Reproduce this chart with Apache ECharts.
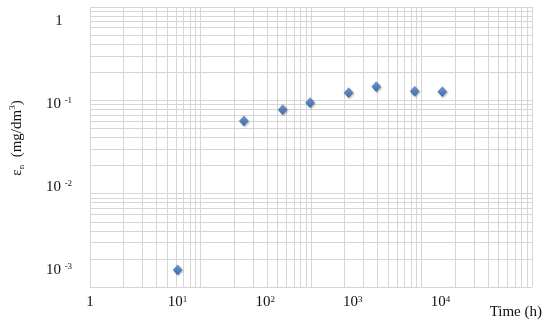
<!DOCTYPE html>
<html>
<head>
<meta charset="utf-8">
<script src="https://cdn.jsdelivr.net/npm/echarts@6/dist/echarts.min.js"></script>
<style>
html,body{margin:0;padding:0;background:#fff;}
#chart{width:550px;height:324px;}
</style>
</head>
<body>
<div id="chart"></div>
<script>
// measured points: time (h) / eps_n (mg/dm3)
var timeH = [10, 57, 158, 325, 895, 1850, 5080, 10500];
var epsN = [0.001, 0.0622, 0.085, 0.1032, 0.1362, 0.161, 0.1416, 0.140];
// tick labels
var xTickValues = [1, 10, 100, 1000, 10000];
var yTickValues = [0.001, 0.01, 0.1, 1];

var font = 'Liberation Serif';
var gridColor = '#d6d6d6';

// grid lines 1..9 x 10^k
var xGrid = [], yGrid = [];
for (var k = 0; k < 4; k++) {
    for (var m = 1; m < 10; m++) { xGrid.push(m * Math.pow(10, k)); }
}
xGrid.push(10000);
for (var k = -3; k < 0; k++) {
    for (var m = 1; m < 10; m++) { yGrid.push(m * Math.pow(10, k)); }
}
yGrid.push(1);

var points = [];
timeH.forEach(function (t, i) { points.push([t, epsN[i]]); });

var rich = {
    t: {fontFamily: font, fontSize: 15, color: '#111'},
    s: {fontFamily: font, fontSize: 9, color: '#111', verticalAlign: 'top', lineHeight: 12}
};

function powLabel(v, gap) {
    var n = Math.round(Math.log(v) / Math.LN10);
    if (n === 0) return '{t|1}';
    return '{t|10' + gap + '}{s|' + n + '}';
}

var myChart = echarts.init(document.getElementById('chart'));
var option = {
    backgroundColor: '#fff',
    animation: false,
    grid: {left: 88.5, right: 18, top: 7, bottom: 37},
    xAxis: [
        {
            type: 'log', min: 1, max: 111000,
            axisLine: {show: false}, axisTick: {show: false}, splitLine: {show: false},
            axisLabel: {
                customValues: xTickValues, margin: 8, rich: rich,
                formatter: function (v) { return powLabel(v, ''); }
            },
            name: 'Time (h)', nameLocation: 'end', nameGap: 10,
            nameTextStyle: {fontFamily: font, fontSize: 15, color: '#111', align: 'right', verticalAlign: 'top', padding: [18, 0, 0, 0]}
        },
        {
            type: 'log', min: 1, max: 10000, position: 'bottom',
            axisLine: {show: false}, axisLabel: {show: false},
            axisTick: {show: false, customValues: xGrid},
            splitLine: {show: true, lineStyle: {color: gridColor, width: 1}}
        }
    ],
    yAxis: [
        {
            type: 'log', min: 0.000623, max: 1.466,
            axisLine: {show: false}, axisTick: {show: false}, splitLine: {show: false},
            axisLabel: {
                customValues: yTickValues, margin: 31, align: 'center', rich: rich,
                formatter: function (v) { return powLabel(v, ' '); }
            },
            name: '{t|ε}{n|n}{t|  (mg/dm}{s|3}{t|)}', nameLocation: 'middle', nameGap: 64, nameRotate: 90,
            nameTextStyle: {
                padding: [0, 0, 0, 18],
                rich: {
                    t: {fontFamily: font, fontSize: 15, color: '#111', lineHeight: 18},
                    n: {fontFamily: font, fontSize: 9, color: '#111', verticalAlign: 'bottom', lineHeight: 18},
                    s: {fontFamily: font, fontSize: 9, color: '#111', verticalAlign: 'top', lineHeight: 18}
                }
            }
        },
        {
            type: 'log', min: 0.001, max: 1, position: 'left',
            axisLine: {show: false}, axisLabel: {show: false},
            axisTick: {show: false, customValues: yGrid},
            splitLine: {show: true, lineStyle: {color: gridColor, width: 1}}
        }
    ],
    series: [
        {
            type: 'scatter', xAxisIndex: 0, yAxisIndex: 0,
            symbol: 'diamond', symbolSize: [9, 10],
            itemStyle: {
                color: new echarts.graphic.LinearGradient(0, 0, 0, 1, [
                    {offset: 0, color: '#5a8fdc'},
                    {offset: 1, color: '#2358a6'}
                ]),
                borderColor: '#2a5896', borderWidth: 0.5,
                shadowBlur: 2, shadowColor: 'rgba(0,0,0,0.35)', shadowOffsetX: 1, shadowOffsetY: 1
            },
            data: points
        }
    ]
};
myChart.setOption(option);
</script>
</body>
</html>
